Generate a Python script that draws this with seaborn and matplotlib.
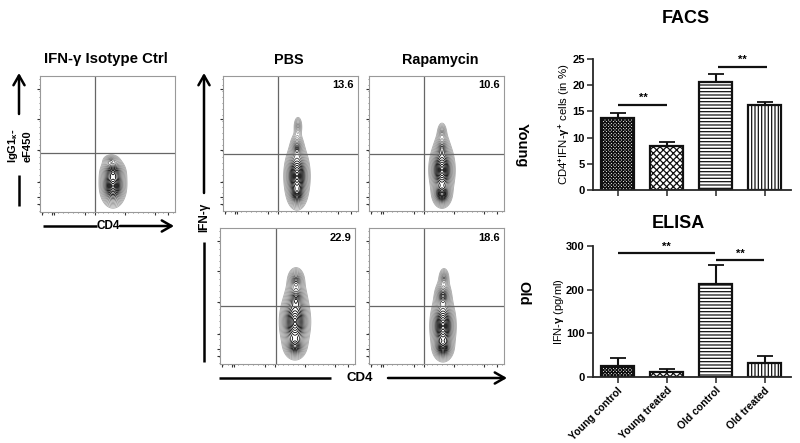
import numpy as np
import pandas as pd
import matplotlib
matplotlib.use('Agg')
import matplotlib.pyplot as plt
import seaborn as sns

sns.set_style('ticks')
plt.rcParams['font.family'] = ['Liberation Sans', 'DejaVu Sans']
plt.rcParams['font.weight'] = 'bold'
plt.rcParams['text.color'] = 'black'
plt.rcParams['axes.labelcolor'] = 'black'
plt.rcParams['xtick.labelcolor'] = 'black'
plt.rcParams['ytick.labelcolor'] = 'black'
plt.rcParams['mathtext.fontset'] = 'custom'
plt.rcParams['mathtext.rm'] = 'Liberation Sans:bold'
plt.rcParams['mathtext.bf'] = 'Liberation Sans:bold'
plt.rcParams['mathtext.it'] = 'Liberation Sans:bold'
plt.rcParams['mathtext.default'] = 'bf'
plt.rcParams['hatch.linewidth'] = 0.9

W, H = 800, 443

# Bar chart data
groups = ['Young control', 'Young treated', 'Old control', 'Old treated']
facs_values = [13.7, 8.4, 20.7, 16.2]
facs_errors = [0.9, 0.7, 1.4, 0.6]
elisa_values = [25, 12, 212, 32]
elisa_errors = [19, 7, 44, 15]
bar_hatches = ['xxxxxxxxxx', 'xxxxx', '-----', '|||||']

# Contour blobs for the flow panels: centre x, centre y, spread x, spread y, weight
iso_blobs = [(73, 110, 5.6, 9, 1), (73, 96, 5.6, 6, 0.5), (71, 84, 5, 3.5, 0.1)]
pbs_young_blobs = [(74, 100, 5.4, 13, 1), (74, 118, 3.8, 6, 0.5), (74, 72, 3.6, 8, 0.2), (75, 50, 3, 7, 0.08)]
rapa_young_blobs = [(73, 94, 5.4, 12, 1), (73, 118, 4.2, 6, 0.7), (73, 72, 3.8, 8, 0.2), (73, 56, 3.2, 7, 0.08)]
pbs_old_blobs = [(75, 94, 6.4, 13, 1), (75, 118, 5, 6, 0.5), (76, 70, 5, 9, 0.32), (76, 52, 4.6, 7, 0.22)]
rapa_old_blobs = [(74, 98, 5.4, 13, 1), (74, 120, 4.4, 5.5, 0.6), (74, 68, 4.2, 8, 0.3), (75, 50, 3.2, 6.5, 0.12)]
gate_values = ['13.6', '10.6', '22.9', '18.6']


def px_axes(x0, y0, x1, y1):
    return fig.add_axes([x0 / W, 1 - y1 / H, (x1 - x0) / W, (y1 - y0) / H])


def flow_panel(box, vline, hline, blobs, label=None):
    ax = px_axes(*box)
    w = box[2] - box[0]
    h = box[3] - box[1]
    xx, yy = np.meshgrid(np.linspace(0, w, 400), np.linspace(0, h, 400))
    zz = np.zeros_like(xx)
    for cx, cy, sx, sy, amp in blobs:
        r = np.sqrt(((xx - cx) / sx) ** 2 + ((yy - cy) / sy) ** 2) * 1.4
        zz += amp * np.exp(-r ** 1.2)
    levels = np.geomspace(0.012, 0.96, 17) * zz.max()
    ax.contour(xx, yy, zz, levels=levels, cmap='gray_r', vmin=-0.08 * zz.max(), vmax=0.2 * zz.max(), linewidths=0.6)
    ax.axvline(vline - box[0], color='#666666', lw=0.9)
    ax.axhline(hline - box[1], color='#666666', lw=0.9)
    ax.set_xlim(0, w)
    ax.set_ylim(h, 0)
    for s in ax.spines.values():
        s.set_color('#999999')
        s.set_linewidth(0.8)
    ax.set_xticks([2, 12, 14, 45, 55, 85, 115, 128])
    ax.set_yticks([13, 43, 74, 106, 121, 128])
    ax.set_xticks(np.arange(3, w, 5), minor=True)
    ax.set_yticks(np.arange(3, h, 6), minor=True)
    ax.tick_params(which='major', length=2, width=0.8, color='#333333', labelbottom=False, labelleft=False)
    ax.tick_params(which='minor', length=1, width=0.5, color='#555555')
    if label:
        ax.text(0.97, 0.93, label, transform=ax.transAxes, ha='right', va='center', fontsize=8)
    return ax


def bar_panel(box, values, errors, ymax, yticks):
    ax = px_axes(*box)
    df = pd.DataFrame({'group': groups, 'value': values})
    sns.barplot(data=df, x='group', y='value', color='white', saturation=1, width=0.68,
                edgecolor='#111111', linewidth=1.6, errorbar=None, ax=ax)
    for patch, hatch in zip(ax.patches, bar_hatches):
        patch.set_hatch(hatch)
    ax.errorbar(range(len(values)), values, yerr=[np.zeros(len(errors)), errors], fmt='none',
                ecolor='#111111', elinewidth=1.5, capsize=5.8, capthick=1.3)
    ax.set_xlim(-0.5, 3.54)
    ax.set_ylim(0, ymax)
    ax.set_yticks(yticks)
    ax.set_xlabel('')
    sns.despine(ax=ax)
    for s in ['left', 'bottom']:
        ax.spines[s].set_linewidth(1.3)
    ax.tick_params(length=4, width=1.1, labelsize=8, pad=2)
    return ax


def sig_line(ax, x0, x1, y, star_x, star_y):
    ax.plot([x0, x1], [y, y], color='#111111', lw=1.6, solid_capstyle='butt', clip_on=False)
    ax.text(star_x, star_y, '**', ha='center', va='center', fontsize=8, clip_on=False)


fig = plt.figure(figsize=(W / 100, H / 100), dpi=100)

# Flow panels
flow_panel((40, 76, 175, 212), 95, 153, iso_blobs)
flow_panel((223, 76, 358, 211), 278, 154, pbs_young_blobs, gate_values[0])
flow_panel((369, 76, 504, 211), 424, 154, rapa_young_blobs, gate_values[1])
flow_panel((220, 228, 355, 364), 276, 306, pbs_old_blobs, gate_values[2])
flow_panel((369, 228, 504, 364), 424, 306, rapa_old_blobs, gate_values[3])

# FACS bars
ax1 = bar_panel((593, 59, 791, 190), facs_values, facs_errors, 25, [0, 5, 10, 15, 20, 25])
ax1.set_xticklabels([])
ax1.set_ylabel('CD4$^{+}$IFN-$\\gamma^{+}$ cells (in %)', fontsize=8.2, labelpad=0)
sig_line(ax1, 0.0, 1.0, 16.2, 0.53, 17.6)
sig_line(ax1, 2.06, 3.06, 23.5, 2.55, 24.9)

# ELISA bars
ax2 = bar_panel((593, 246, 791, 377), elisa_values, elisa_errors, 300, [0, 100, 200, 300])
ax2.set_xticklabels(groups, rotation=45, ha='right', rotation_mode='anchor', fontsize=7.5)
ax2.set_ylabel('IFN-$\\gamma$ (pg/ml)', fontsize=8, labelpad=0)
sig_line(ax2, 0.0, 1.98, 284, 1.0, 298)
sig_line(ax2, 2.0, 2.98, 268, 2.5, 282)

# Overlay for titles and arrows, in image pixels
ov = fig.add_axes([0, 0, 1, 1], zorder=5)
ov.set_xlim(0, W)
ov.set_ylim(H, 0)
ov.axis('off')
ov.patch.set_alpha(0)


def arrow(x0, y0, x1, y1):
    ov.annotate('', xy=(x1, y1), xytext=(x0, y0),
                arrowprops=dict(arrowstyle='->,head_length=0.7,head_width=0.4', lw=1.8, color='black',
                                shrinkA=0, shrinkB=0))


def line(x0, y0, x1, y1):
    ov.plot([x0, x1], [y0, y1], color='black', lw=1.8, solid_capstyle='butt')


ov.text(106, 59, 'IFN-γ Isotype Ctrl', ha='center', va='center', fontsize=10.8)
ov.text(289, 60, 'PBS', ha='center', va='center', fontsize=10.4)
ov.text(440, 60, 'Rapamycin', ha='center', va='center', fontsize=10.4)
ov.text(686, 18, 'FACS', ha='center', va='center', fontsize=13)
ov.text(678, 223, 'ELISA', ha='center', va='center', fontsize=13)
ov.text(522, 145, 'Young', ha='center', va='center', rotation=270, fontsize=10.5)
ov.text(523, 293, 'Old', ha='center', va='center', rotation=270, fontsize=10.5)

# isotype arrows
arrow(19, 114, 19, 73)
line(19, 175, 19, 206)
ov.text(19, 146, 'IgG1$_{\\kappa}$-\neF450', ha='center', va='center', rotation=90, fontsize=8, linespacing=1.35)
line(43, 226, 97, 226)
ov.text(108, 226, 'CD4', ha='center', va='center', fontsize=8.5)
arrow(120, 226, 174, 226)

# IFN-g arrow
arrow(204, 193, 204, 73)
ov.text(204, 217, 'IFN-γ', ha='center', va='center', rotation=90, fontsize=8.5)
line(204, 242, 204, 362)

# CD4 arrow
line(219, 378, 331, 378)
ov.text(360, 378, 'CD4', ha='center', va='center', fontsize=9.5)
arrow(388, 378, 507, 378)

fig.savefig('out.png', dpi=100)
